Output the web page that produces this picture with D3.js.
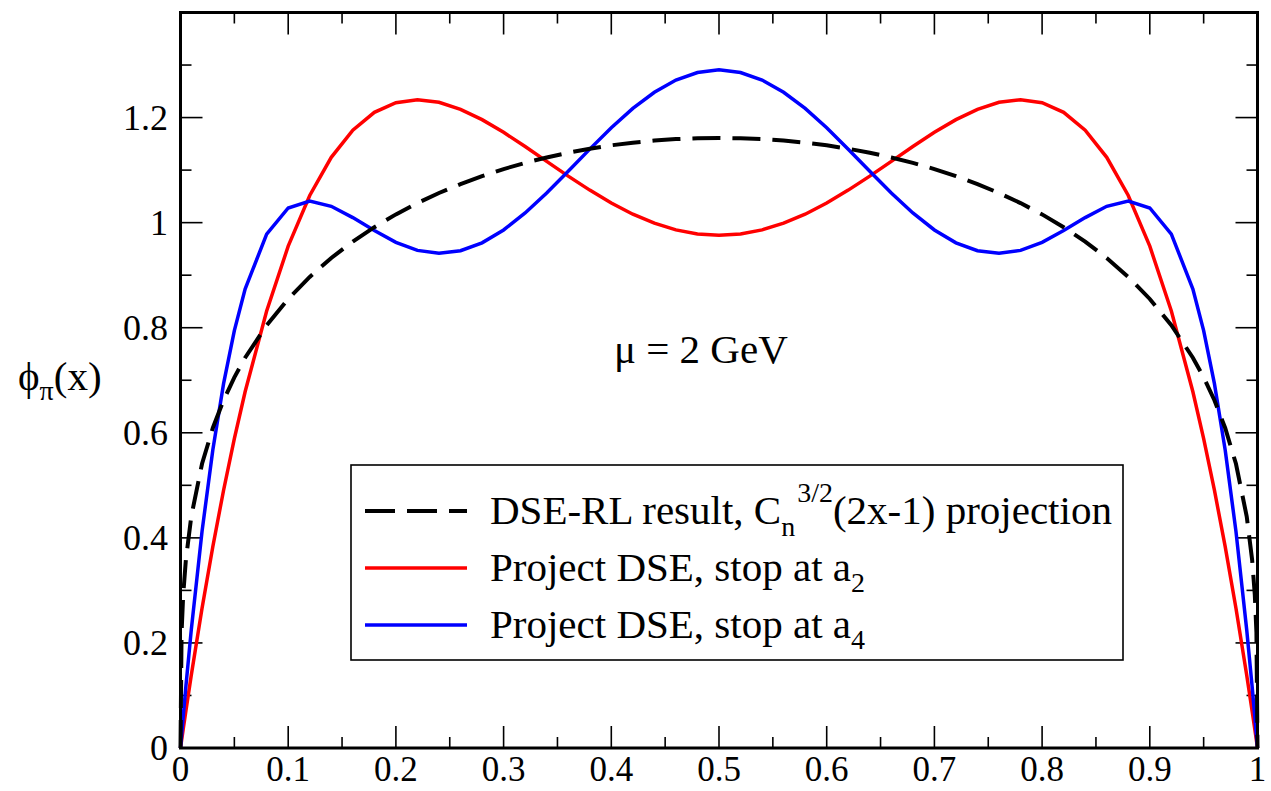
<!DOCTYPE html>
<html>
<head>
<meta charset="utf-8">
<script src="https://cdn.jsdelivr.net/npm/d3@7"></script>
<style>
  html, body { margin: 0; padding: 0; background: #fff; }
  svg { display: block; }
</style>
</head>
<body>
<svg id="chart" width="1271" height="791"></svg>
<script>
// Sample points in x (momentum fraction)
const xs = [0, 0.001, 0.0025, 0.005, 0.01, 0.02, 0.03, 0.04, 0.05, 0.06, 0.08,
  0.10, 0.12, 0.14, 0.16, 0.18, 0.20, 0.22, 0.24, 0.26, 0.28, 0.30, 0.32, 0.34,
  0.36, 0.38, 0.40, 0.42, 0.44, 0.46, 0.48, 0.50, 0.52, 0.54, 0.56, 0.58, 0.60,
  0.62, 0.64, 0.66, 0.68, 0.70, 0.72, 0.74, 0.76, 0.78, 0.80, 0.82, 0.84, 0.86,
  0.88, 0.90, 0.92, 0.94, 0.95, 0.96, 0.97, 0.98, 0.99, 0.995, 0.9975, 0.999, 1];

// DSE-RL result, C_n^{3/2}(2x-1) projection
const dseRL = [0, 0.22, 0.2915, 0.3585, 0.4407, 0.541, 0.6091, 0.6619, 0.7056, 0.7429, 0.8047,
  0.8547, 0.8967, 0.9327, 0.9640, 0.9914, 1.0157, 1.0372, 1.0564, 1.0734, 1.0886, 1.1020,
  1.1138, 1.1241, 1.1331, 1.1407, 1.1472, 1.1522, 1.1562, 1.1590, 1.1606, 1.1612,
  1.1606, 1.1590, 1.1562, 1.1522, 1.1472, 1.1407, 1.1331, 1.1241, 1.1138, 1.1020,
  1.0886, 1.0734, 1.0564, 1.0372, 1.0157, 0.9914, 0.9640, 0.9327, 0.8967, 0.8547,
  0.8047, 0.7429, 0.7056, 0.6619, 0.6091, 0.541, 0.4407, 0.3585, 0.2915, 0.22, 0];

// Project DSE, stop at a2
const stopA2 = [0, 0.0143, 0.0356, 0.0705, 0.1383, 0.2659, 0.3832, 0.4907, 0.5888, 0.6781, 0.8318,
  0.9552, 1.0517, 1.1243, 1.1761, 1.2100, 1.2284, 1.2340, 1.2290, 1.2157, 1.1961, 1.1719,
  1.1450, 1.1167, 1.0886, 1.0619, 1.0374, 1.0161, 0.9990, 0.9862, 0.9784, 0.9758,
  0.9784, 0.9862, 0.9990, 1.0161, 1.0374, 1.0619, 1.0886, 1.1167, 1.1450, 1.1719,
  1.1961, 1.2157, 1.2290, 1.2340, 1.2284, 1.2100, 1.1761, 1.1243, 1.0517, 0.9552,
  0.8318, 0.6781, 0.5888, 0.4907, 0.3832, 0.2659, 0.1383, 0.0705, 0.0356, 0.0143, 0];

// Project DSE, stop at a4
const stopA4 = [0, 0.0243, 0.0599, 0.1173, 0.2247, 0.4124, 0.5674, 0.6936, 0.7946, 0.8736, 0.9781,
  1.0279, 1.0409, 1.0311, 1.0096, 0.9849, 0.9626, 0.9472, 0.9417, 0.9465, 0.9616, 0.9861,
  1.0185, 1.0565, 1.0978, 1.1399, 1.1807, 1.2174, 1.2481, 1.2715, 1.2858, 1.2908,
  1.2858, 1.2715, 1.2481, 1.2174, 1.1807, 1.1399, 1.0978, 1.0565, 1.0185, 0.9861,
  0.9616, 0.9465, 0.9417, 0.9472, 0.9626, 0.9849, 1.0096, 1.0311, 1.0409, 1.0279,
  0.9781, 0.8736, 0.7946, 0.6936, 0.5674, 0.4124, 0.2247, 0.1173, 0.0599, 0.0243, 0];

const xTickLabels = ["0", "0.1", "0.2", "0.3", "0.4", "0.5", "0.6", "0.7", "0.8", "0.9", "1"];
const yTickLabels = ["0", "0.2", "0.4", "0.6", "0.8", "1", "1.2"];

const FONT = "Liberation Serif";
const svg = d3.select("#chart");
const plotLeft = 180.5, plotRight = 1257.5, plotTop = 12.5, plotBottom = 748;

const x = d3.scaleLinear().domain([0, 1]).range([plotLeft, plotRight]);
const y = d3.scaleLinear().domain([0, 1.4]).range([plotBottom, plotTop]);

const majorX = d3.range(0, 11).map(i => i / 10);
const minorX = d3.range(0, 10).map(i => i / 10 + 0.05);
const majorY = d3.range(0, 8).map(i => i * 0.2);
const minorY = d3.range(0, 7).map(i => i * 0.2 + 0.1);

const tickG = svg.append("g").attr("stroke", "#000").attr("stroke-width", 1.6);
const majLen = 22, minLen = 11;
majorX.forEach(v => {
  tickG.append("line").attr("x1", x(v)).attr("x2", x(v)).attr("y1", plotBottom).attr("y2", plotBottom - majLen);
  tickG.append("line").attr("x1", x(v)).attr("x2", x(v)).attr("y1", plotTop).attr("y2", plotTop + majLen);
});
minorX.forEach(v => {
  tickG.append("line").attr("x1", x(v)).attr("x2", x(v)).attr("y1", plotBottom).attr("y2", plotBottom - minLen);
  tickG.append("line").attr("x1", x(v)).attr("x2", x(v)).attr("y1", plotTop).attr("y2", plotTop + minLen);
});
majorY.forEach(v => {
  tickG.append("line").attr("x1", plotLeft).attr("x2", plotLeft + majLen).attr("y1", y(v)).attr("y2", y(v));
  tickG.append("line").attr("x1", plotRight).attr("x2", plotRight - majLen).attr("y1", y(v)).attr("y2", y(v));
});
minorY.forEach(v => {
  tickG.append("line").attr("x1", plotLeft).attr("x2", plotLeft + minLen).attr("y1", y(v)).attr("y2", y(v));
  tickG.append("line").attr("x1", plotRight).attr("x2", plotRight - minLen).attr("y1", y(v)).attr("y2", y(v));
});

// Tick labels
svg.append("g").selectAll("text").data(majorX).join("text")
  .attr("font-family", FONT)
  .attr("x", d => x(d)).attr("y", 781)
  .attr("text-anchor", "middle").attr("font-size", 35)
  .text((d, i) => xTickLabels[i]);
svg.append("g").selectAll("text").data(yTickLabels).join("text")
  .attr("font-family", FONT)
  .attr("x", 168).attr("y", (d, i) => y(majorY[i]) + 12)
  .attr("text-anchor", "end").attr("font-size", 36)
  .text(d => d);

// Curves
const plot = svg.append("g");
const line = vals => d3.line().x((d, i) => x(xs[i])).y(d => y(d))(vals);
plot.append("path").attr("d", line(stopA2)).attr("fill", "none")
  .attr("stroke", "#ff0000").attr("stroke-width", 3.5);
plot.append("path").attr("d", line(stopA4)).attr("fill", "none")
  .attr("stroke", "#0000ff").attr("stroke-width", 3.5);
plot.append("path").attr("d", line(dseRL)).attr("fill", "none")
  .attr("stroke", "#000").attr("stroke-width", 4).attr("stroke-dasharray", "28,12");

// Frame
svg.append("rect").attr("x", plotLeft).attr("y", plotTop)
  .attr("width", plotRight - plotLeft).attr("height", plotBottom - plotTop)
  .attr("fill", "none").attr("stroke", "#000").attr("stroke-width", 3);

// Annotation
svg.append("text").attr("font-family", FONT)
  .attr("x", 614).attr("y", 363).attr("font-size", 41).text("μ = 2 GeV");

// Y axis label
const yl = svg.append("text").attr("font-family", FONT)
  .attr("x", 18).attr("y", 390).attr("font-size", 41);
yl.append("tspan").text("ϕ");
yl.append("tspan").attr("font-size", 28).attr("dy", 10).text("π");
yl.append("tspan").attr("dy", -10).text("(x)");

// Legend
const lg = svg.append("g");
lg.append("rect").attr("x", 351).attr("y", 465).attr("width", 772).attr("height", 195)
  .attr("fill", "#fff").attr("stroke", "#000").attr("stroke-width", 1.6);
const legendRows = [
  { y: 511, color: "#000", dash: "30,12", width: 4 },
  { y: 568, color: "#ff0000", dash: null, width: 3.5 },
  { y: 625, color: "#0000ff", dash: null, width: 3.5 }
];
legendRows.forEach(r => {
  const l = lg.append("line").attr("x1", 365).attr("x2", 467).attr("y1", r.y).attr("y2", r.y)
    .attr("stroke", r.color).attr("stroke-width", r.width);
  if (r.dash) l.attr("stroke-dasharray", r.dash);
});
const t1 = lg.append("text").attr("font-family", FONT).attr("x", 490).attr("y", 524).attr("font-size", 41);
t1.append("tspan").text("DSE-RL result, C");
t1.append("tspan").attr("font-size", 28).attr("dy", 12).text("n");
t1.append("tspan").attr("font-size", 28).attr("dy", -34).attr("dx", 2).text("3/2");
t1.append("tspan").attr("dy", 22).text("(2x-1) projection");
const t2 = lg.append("text").attr("font-family", FONT).attr("x", 490).attr("y", 581).attr("font-size", 41);
t2.append("tspan").text("Project DSE, stop at a");
t2.append("tspan").attr("font-size", 28).attr("dy", 11).text("2");
const t3 = lg.append("text").attr("font-family", FONT).attr("x", 490).attr("y", 638).attr("font-size", 41);
t3.append("tspan").text("Project DSE, stop at a");
t3.append("tspan").attr("font-size", 28).attr("dy", 11).text("4");
</script>
</body>
</html>
